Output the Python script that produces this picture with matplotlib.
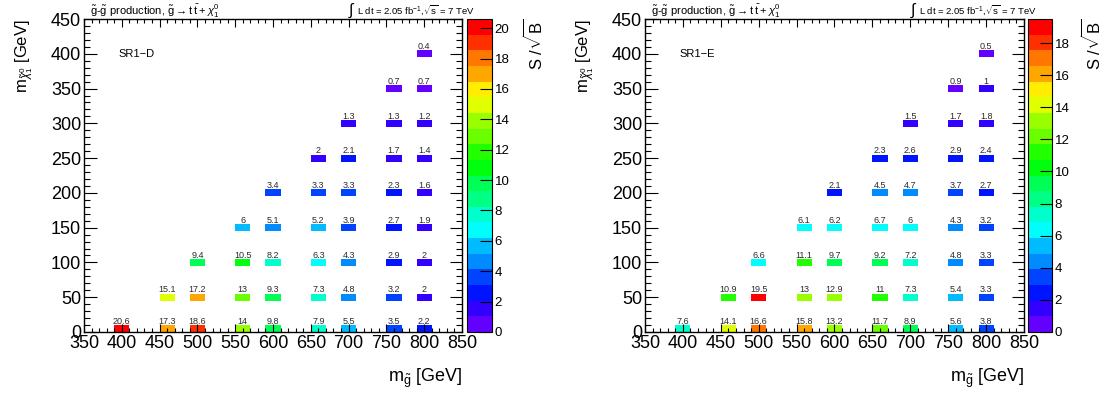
import colorsys
import numpy as np
import matplotlib
matplotlib.use('Agg')
import matplotlib.pyplot as plt
from matplotlib.colors import ListedColormap, BoundaryNorm
from matplotlib.cm import ScalarMappable
from matplotlib.ticker import MultipleLocator

plt.rcParams['font.family'] = ['Liberation Sans', 'DejaVu Sans']
plt.rcParams['mathtext.fontset'] = 'custom'
plt.rcParams['mathtext.rm'] = 'Liberation Sans'
plt.rcParams['mathtext.it'] = 'Liberation Sans:italic'
plt.rcParams['mathtext.bf'] = 'Liberation Sans:bold'

# signal grid points (gluino mass, neutralino mass) in GeV
m_gluino = [400, 450, 500, 550, 600, 650, 700, 750, 800,
            450, 500, 550, 600, 650, 700, 750, 800,
            500, 550, 600, 650, 700, 750, 800,
            550, 600, 650, 700, 750, 800,
            600, 650, 700, 750, 800,
            650, 700, 750, 800,
            700, 750, 800,
            750, 800,
            800]
m_lsp = [0, 0, 0, 0, 0, 0, 0, 0, 0,
         50, 50, 50, 50, 50, 50, 50, 50,
         100, 100, 100, 100, 100, 100, 100,
         150, 150, 150, 150, 150, 150,
         200, 200, 200, 200, 200,
         250, 250, 250, 250,
         300, 300, 300,
         350, 350,
         400]

# S/sqrt(B) per grid point
sig_sr1d = [20.6, 17.3, 18.6, 14, 9.8, 7.9, 5.5, 3.5, 2.2,
            15.1, 17.2, 13, 9.3, 7.3, 4.8, 3.2, 2,
            9.4, 10.5, 8.2, 6.3, 4.3, 2.9, 2,
            6, 5.1, 5.2, 3.9, 2.7, 1.9,
            3.4, 3.3, 3.3, 2.3, 1.6,
            2, 2.1, 1.7, 1.4,
            1.3, 1.3, 1.2,
            0.7, 0.7,
            0.4]
sig_sr1e = [7.6, 14.1, 16.6, 15.8, 13.2, 11.7, 8.9, 5.6, 3.8,
            10.9, 19.5, 13, 12.9, 11, 7.3, 5.4, 3.3,
            6.6, 11.1, 9.7, 9.2, 7.2, 4.8, 3.3,
            6.1, 6.2, 6.7, 6, 4.3, 3.2,
            2.1, 4.5, 4.7, 3.7, 2.7,
            2.3, 2.6, 2.9, 2.4,
            1.5, 1.7, 1.8,
            0.9, 1,
            0.5]

regions = ['SR1\u2212D', 'SR1\u2212E']

N_CONT = 20
X_BIN = 20.0
Y_BIN = 10.0


def root_palette(ncont=N_CONT):
    """ROOT 'pretty' palette (violet -> red) sampled like COLZ does."""
    pal = []
    for i in range(50):
        hue = 280 - (i + 1) * 5.6 if i < 49 else 0.0
        pal.append(colorsys.hls_to_rgb(max(hue, 0) / 360.0, 0.5, 1.0))
    cols = [pal[int((k + 0.99) * 50 / ncont)] for k in range(ncont)]
    return ListedColormap(cols)


def draw_panel(ax, cax, values, region):
    vmax = max(values)
    cmap = root_palette()
    norm = BoundaryNorm(np.linspace(0, vmax, N_CONT + 1), cmap.N, clip=True)

    # histogram-like binning: 20 GeV bins starting at 350
    xc = [350 + X_BIN * np.floor((m - 350) / X_BIN) + X_BIN / 2 for m in m_gluino]
    yb = [max(m - Y_BIN / 2, 0) for m in m_lsp]
    ax.bar(xc, Y_BIN, width=X_BIN, bottom=yb, color=cmap(norm(values)),
           linewidth=0, zorder=1)
    for x, y, v in zip(xc, yb, values):
        ax.text(x, y + Y_BIN - 1.0, f'{v:g}', ha='center', va='bottom',
                fontsize=6.5, color='#2a2a2a', zorder=3)

    ax.set_xlim(350, 850)
    ax.set_ylim(0, 450)
    ax.xaxis.set_major_locator(MultipleLocator(50))
    ax.xaxis.set_minor_locator(MultipleLocator(10))
    ax.yaxis.set_major_locator(MultipleLocator(50))
    ax.yaxis.set_minor_locator(MultipleLocator(10))
    ax.tick_params(which='both', direction='in', top=True, right=True,
                   labelsize=13, width=0.8, pad=2)
    ax.tick_params(axis='x', which='major', length=6)
    ax.tick_params(axis='x', which='minor', length=3)
    ax.tick_params(axis='y', which='major', length=9)
    ax.tick_params(axis='y', which='minor', length=4.5)
    for s in ax.spines.values():
        s.set_linewidth(1.0)

    ax.set_xlabel(r'm$_{\tilde{\mathrm{g}}}$ [GeV]', fontsize=13, ha='right')
    ax.xaxis.set_label_coords(1.0, -0.11)
    ax.set_ylabel(r'm$_{\tilde{\chi}^{0}_{1}}$ [GeV]', fontsize=12, ha='right')
    ax.yaxis.set_label_coords(-0.13, 1.0)

    ax.text(0.016, 1.013,
            r'$\tilde{\mathrm{g}}$-$\tilde{\mathrm{g}}$ production, '
            r'$\tilde{\mathrm{g}}\rightarrow\mathrm{t}\;\bar{\mathrm{t}}+\chi^{0}_{1}$',
            transform=ax.transAxes, fontsize=8, ha='left', va='baseline')
    ax.text(0.698, 0.998, r'$\int$', transform=ax.transAxes, fontsize=11.5,
            ha='left', va='bottom')
    ax.text(0.722, 1.018, r'L dt = 2.05 fb$^{-1}$,$\sqrt{\mathrm{s}}$ = 7 TeV',
            transform=ax.transAxes, fontsize=6.8, ha='left', va='baseline')
    ax.text(395, 400, region, fontsize=8, ha='left', va='center')

    cb = plt.colorbar(ScalarMappable(norm=norm, cmap=cmap), cax=cax,
                      ticks=np.arange(0, vmax, 2), spacing='proportional')
    cb.outline.set_linewidth(0.8)
    cax.tick_params(direction='in', length=9, width=0.8, labelsize=9.5,
                    pad=2, colors='black')
    cax.minorticks_off()
    return cb


fig = plt.figure(figsize=(11.12, 3.94), dpi=100)
W, H = 1112.0, 394.0
panels = [(84, 462, 467, 492, 534), (645, 1024, 1028, 1052, 1092)]
for (x0, x1, c0, c1, lx), vals, reg in zip(panels, [sig_sr1d, sig_sr1e], regions):
    ax = fig.add_axes([x0 / W, 1 - 332 / H, (x1 - x0) / W, 313 / H])
    cax = fig.add_axes([c0 / W, 1 - 332 / H, (c1 - c0) / W, 313 / H])
    draw_panel(ax, cax, vals, reg)
    fig.text(lx / W, 1 - 19 / H, r'S /$\sqrt{\mathrm{B}}$', rotation=90,
             ha='center', va='top', fontsize=12)

fig.savefig('out.png', dpi=100)
